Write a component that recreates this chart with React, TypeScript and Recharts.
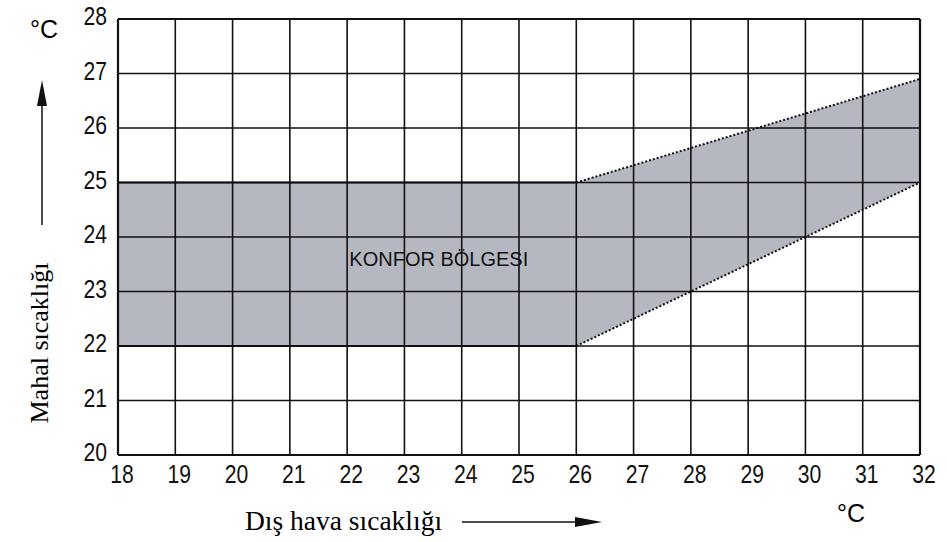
import { Area, ComposedChart, Line, ReferenceDot, ReferenceLine, XAxis, YAxis } from 'recharts'

// dış hava sıcaklığı (°C)
const xTicks = [18, 19, 20, 21, 22, 23, 24, 25, 26, 27, 28, 29, 30, 31, 32]
// mahal sıcaklığı (°C)
const yTicks = [20, 21, 22, 23, 24, 25, 26, 27, 28]

// konfor bölgesi sınırları
const comfortX = [18, 26, 32]
const comfortLow = [22, 22, 25]
const comfortHigh = [25, 25, 26.9]

const zoneLabel = 'KONFOR BÖLGESI'

const rows = comfortX.map((x, i) => ({
  x,
  low: comfortLow[i],
  high: comfortHigh[i],
  range: [comfortLow[i], comfortHigh[i]],
}))

const sans = '"Liberation Sans", Arial, sans-serif'
const serif = '"Liberation Serif", "Times New Roman", serif'

// dar, uzun rakamlar (Arial Narrow benzeri)
function XTick(props: any) {
  const { x, y, payload } = props
  return (
    <text
      transform={`translate(${x + 4},${y + 25}) scale(0.92,1.15)`}
      textAnchor="middle"
      fontSize={23}
      fontFamily={sans}
      fill="#111"
    >
      {payload.value}
    </text>
  )
}

function YTick(props: any) {
  const { x, y, payload } = props
  return (
    <text
      transform={`translate(${x + 2},${y + 6}) scale(0.92,1.15)`}
      textAnchor="end"
      fontSize={23}
      fontFamily={sans}
      fill="#111"
    >
      {payload.value}
    </text>
  )
}

export default function App() {
  return (
    <div style={{ position: 'absolute', left: 0, top: 0, width: 947, height: 542, background: '#fff' }}>
      <ComposedChart
        width={947}
        height={542}
        data={rows}
        margin={{ top: 19, right: 27, bottom: 0, left: 0 }}
      >
        <XAxis
          dataKey="x"
          type="number"
          domain={[18, 32]}
          ticks={xTicks}
          axisLine={false}
          tickLine={false}
          tickSize={3}
          tickMargin={0}
          height={87}
          tick={<XTick />}
          interval={0}
        />
        <YAxis
          type="number"
          domain={[20, 28]}
          ticks={yTicks}
          axisLine={false}
          tickLine={false}
          tickSize={4}
          tickMargin={9}
          width={118}
          tick={<YTick />}
          interval={0}
        />
        <Area
          dataKey="range"
          type="linear"
          fill="#b6b8c1"
          fillOpacity={1}
          stroke="none"
          isAnimationActive={false}
        />
        {xTicks.map((v) => (
          <ReferenceLine
            key={'x' + v}
            x={v}
            stroke="#111"
            strokeWidth={v === 18 || v === 32 ? 2.2 : 1.6}
          />
        ))}
        {yTicks.map((v) => (
          <ReferenceLine
            key={'y' + v}
            y={v}
            stroke="#111"
            strokeWidth={v === 20 || v === 28 ? 2.2 : 1.6}
          />
        ))}
        <Line
          data={rows.slice(0, 2)}
          dataKey="high"
          type="linear"
          stroke="#111"
          strokeWidth={2.2}
          dot={false}
          isAnimationActive={false}
        />
        <Line
          data={rows.slice(0, 2)}
          dataKey="low"
          type="linear"
          stroke="#111"
          strokeWidth={2.2}
          dot={false}
          isAnimationActive={false}
        />
        <Line
          data={rows.slice(1, 3)}
          dataKey="high"
          type="linear"
          stroke="#111"
          strokeWidth={2}
          strokeDasharray="2 2"
          dot={false}
          isAnimationActive={false}
        />
        <Line
          data={rows.slice(1, 3)}
          dataKey="low"
          type="linear"
          stroke="#111"
          strokeWidth={2}
          strokeDasharray="2 2"
          dot={false}
          isAnimationActive={false}
        />
        <ReferenceDot
          x={23.6}
          y={23.6}
          r={0}
          fill="none"
          stroke="none"
          label={{
            value: zoneLabel,
            position: 'center',
            fontSize: 20,
            fill: '#111',
            fontFamily: sans,
          }}
        />
      </ComposedChart>
      <svg
        width={947}
        height={542}
        style={{ position: 'absolute', left: 0, top: 0, pointerEvents: 'none' }}
      >
        <line x1={42} y1={225} x2={42} y2={100} stroke="#111" strokeWidth={1.5} />
        <polygon points="42,80 37,106 47,106" fill="#111" />
        <line x1={462} y1={522} x2={580} y2={522} stroke="#111" strokeWidth={1.5} />
        <polygon points="602,522 575,517 575,527" fill="#111" />
      </svg>
      <div style={{ position: 'absolute', left: 30, top: 15, fontSize: 25, fontFamily: sans }}>°C</div>
      <div style={{ position: 'absolute', left: 837, top: 499, fontSize: 25, fontFamily: sans }}>°C</div>
      <div
        style={{
          position: 'absolute',
          left: 245,
          top: 505,
          fontSize: 27.5,
          whiteSpace: 'nowrap',
          fontFamily: serif,
        }}
      >
        Dış hava sıcaklığı
      </div>
      <div
        style={{
          position: 'absolute',
          left: 40,
          top: 343,
          transform: 'translate(-50%, -50%) rotate(-90deg)',
          whiteSpace: 'nowrap',
          fontSize: 26,
          fontFamily: serif,
        }}
      >
        Mahal sıcaklığı
      </div>
    </div>
  )
}
